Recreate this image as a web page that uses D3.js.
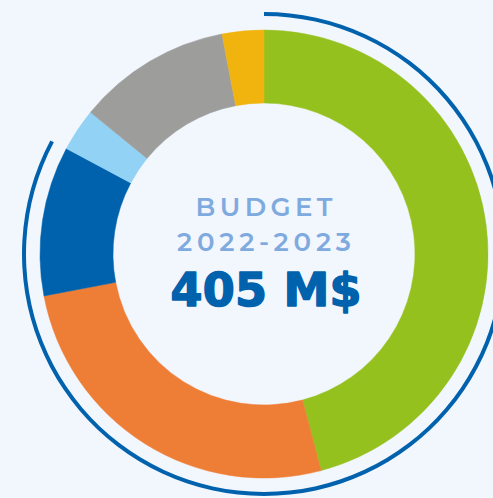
<!DOCTYPE html>
<html>
<head>
<meta charset="utf-8">
<script src="https://cdn.jsdelivr.net/npm/d3@7"></script>
<style>
  html, body { margin: 0; padding: 0; background: #f2f6fd; overflow: hidden; }
</style>
</head>
<body>
<div id="chart"></div>
<script>
// budget shares (% of total), clockwise from 12 o'clock
const categories = ["green", "orange", "darkblue", "lightblue", "gray", "yellow"];
const shares = [45.9, 26.1, 10.8, 3.1, 11.1, 3.0];
const sliceColors = ["#95c11f", "#ee7d35", "#0062ad", "#92d3f5", "#9d9d9c", "#f1b40f"];
const ringEndDeg = 298; // extent of the outer blue arc
const titleLines = ["BUDGET", "2022-2023"];
const totalLabel = "405 M$";

const size = { width: 493, height: 498 };
const cx = 264, cy = 254;

const svg = d3.select("#chart").append("svg")
  .attr("width", size.width)
  .attr("height", size.height);

svg.append("rect")
  .attr("width", size.width)
  .attr("height", size.height)
  .attr("fill", "#f2f6fd");

const g = svg.append("g").attr("transform", `translate(${cx},${cy})`);

const pie = d3.pie().sort(null).value(d => d.value);
const arc = d3.arc().innerRadius(151).outerRadius(224);

const data = categories.map((c, i) => ({ key: c, value: shares[i], color: sliceColors[i] }));

g.selectAll("path.slice")
  .data(pie(data))
  .join("path")
  .attr("class", "slice")
  .attr("d", arc)
  .attr("fill", d => d.data.color)
  .attr("stroke", d => d.data.color)
  .attr("stroke-width", 0.5);

// outer thin ring
g.append("path")
  .attr("d", d3.arc()({
    innerRadius: 238,
    outerRadius: 242,
    startAngle: 0,
    endAngle: ringEndDeg * Math.PI / 180
  }))
  .attr("fill", "#0062ad");

// centre text
const font = "Montserrat, 'Open Sans', Lato, sans-serif";
g.append("text")
  .attr("x", 0)
  .attr("y", 216 - cy)
  .attr("text-anchor", "middle")
  .attr("font-family", font)
  .attr("font-weight", 600)
  .attr("font-size", 26)
  .attr("fill", "#7eaadf")
  .attr("textLength", 137)
  .attr("lengthAdjust", "spacing")
  .text(titleLines[0]);

g.append("text")
  .attr("x", 0)
  .attr("y", 251 - cy)
  .attr("text-anchor", "middle")
  .attr("font-family", font)
  .attr("font-weight", 600)
  .attr("font-size", 26)
  .attr("fill", "#7eaadf")
  .attr("textLength", 174)
  .attr("lengthAdjust", "spacing")
  .text(titleLines[1]);

g.append("text")
  .attr("x", 2)
  .attr("y", 306 - cy)
  .attr("text-anchor", "middle")
  .attr("font-family", "'DejaVu Sans', sans-serif")
  .attr("font-weight", 700)
  .attr("font-size", 46)
  .attr("fill", "#0062ad")
  .attr("stroke", "#0062ad")
  .attr("stroke-width", 1.5)
  .attr("stroke-linejoin", "round")
  .attr("textLength", 191)
  .attr("lengthAdjust", "spacing")
  .text(totalLabel);
</script>
</body>
</html>
